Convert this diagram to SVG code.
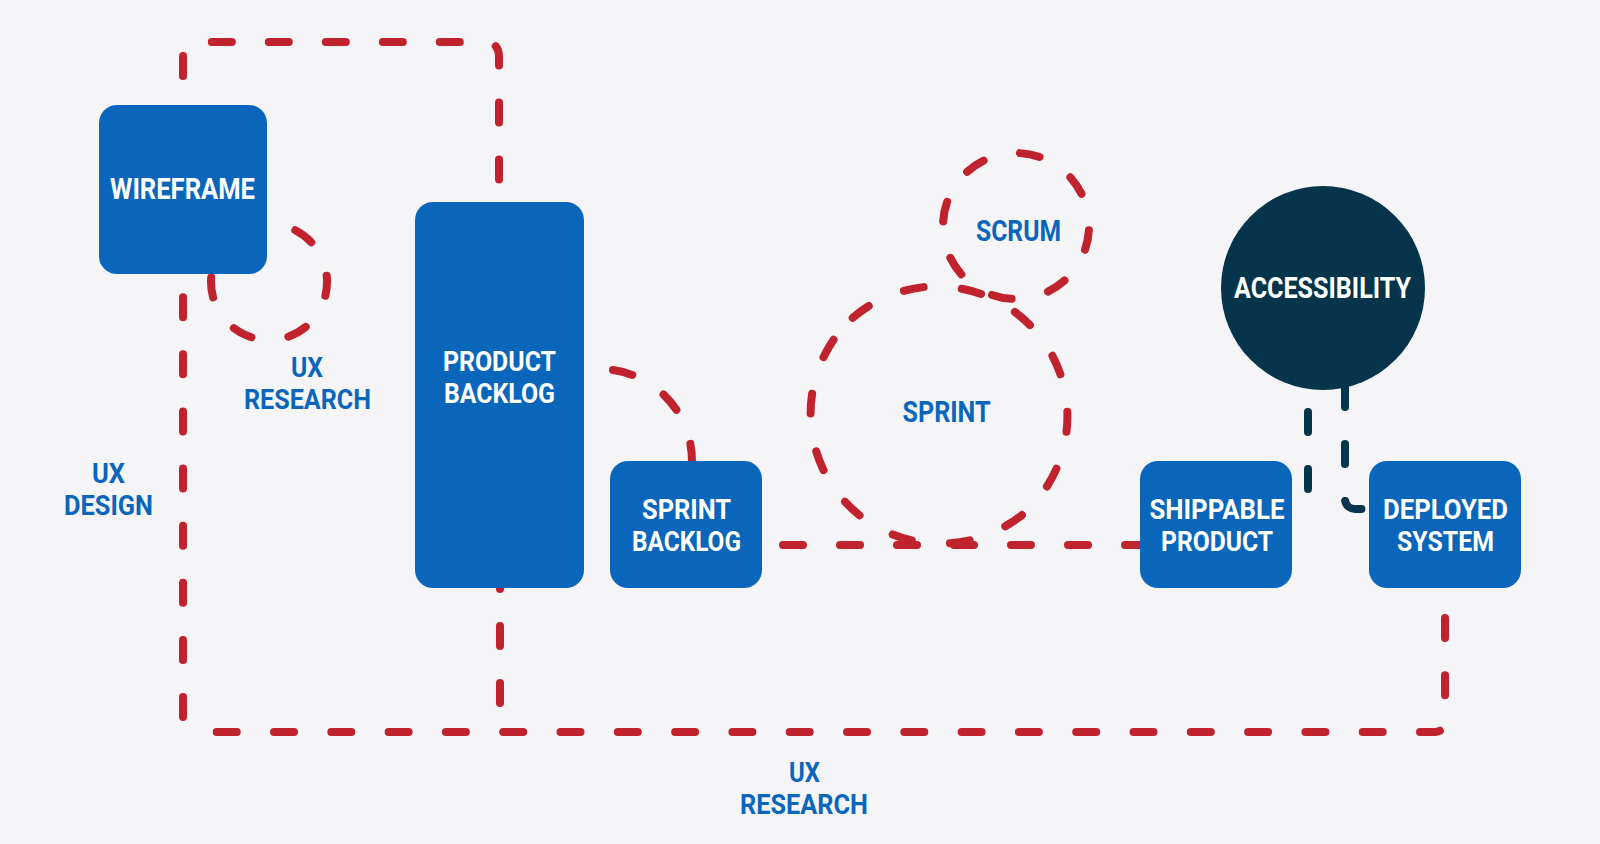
<svg xmlns="http://www.w3.org/2000/svg" width="1600" height="844" viewBox="0 0 1600 844">
<style>
.bg{fill:#f5f5f7}
.box{fill:#0a66bb}
.dark{fill:#06344a}
.red{fill:none;stroke:#c0222e;stroke-width:8;stroke-linecap:round;stroke-dasharray:20 37}
.navy{fill:none;stroke:#06344a;stroke-width:8;stroke-linecap:round;stroke-dasharray:20 37}
text{font-family:Roboto,"Liberation Sans",sans-serif;font-weight:700;font-size:29px;text-anchor:middle}
text.m{font-size:27px}
.w{fill:#ffffff}
.b{fill:#0a66bb}
</style>
<rect class="bg" x="0" y="0" width="1600" height="844"/>
<g id="connectors">
  <path class="red" d="M183,105 V57 Q183,42 198,42 H484 Q499,42 499,57 V202" style="stroke-dashoffset:28"/>
  <path class="red" d="M183,274 V722 A10,10 0 0 0 193,732" style="stroke-dasharray:20 37.14;stroke-dashoffset:34"/>
  <path class="red" d="M1445,588 V722 A10,10 0 0 1 1435,732 H193" style="stroke-dasharray:20 37.3;stroke-dashoffset:27.3"/>
  <path class="red" d="M500,588 V728" style="stroke-dashoffset:19"/>
  <path class="red" d="M295.3,230.3 A58,58 0 1 1 214.5,262.2" style="stroke-dasharray:20 37.5"/>
  <path class="red" d="M613,370 A92,92 0 0 1 692,461"/>
  <path class="red" d="M762,545 H1140" style="stroke-dashoffset:36"/>
  <path class="red" d="M852.7,317.8 A130,130 0 0 1 1025.3,512.2 A130,130 0 0 1 852.7,317.8" style="stroke-dasharray:20 38.34"/>
  <path class="red" d="M967.15,171.75 A73,73 0 0 1 1064.85,280.25 A73,73 0 0 1 967.15,171.75" style="stroke-dasharray:20 37.34"/>
  <path class="navy" d="M1308,389 V494" style="stroke-dashoffset:34"/>
  <path class="navy" d="M1345,380 V499 A10,10 0 0 0 1355,509 H1369" style="stroke-dashoffset:50"/>
</g>
<g id="wireframe">
  <rect class="box" x="99" y="105" width="168" height="169" rx="18"/>
  <text class="w" x="182.5" y="199" textLength="145" lengthAdjust="spacingAndGlyphs">WIREFRAME</text>
</g>
<g id="product-backlog">
  <rect class="box" x="415" y="202" width="169" height="386" rx="18"/>
  <text class="w m"><tspan x="499.5" y="371" textLength="113" lengthAdjust="spacingAndGlyphs">PRODUCT</tspan><tspan x="499.5" y="403" textLength="111" lengthAdjust="spacingAndGlyphs">BACKLOG</tspan></text>
</g>
<g id="sprint-backlog">
  <rect class="box" x="610" y="461" width="152" height="127" rx="18"/>
  <text class="w m"><tspan x="686.5" y="519" textLength="89" lengthAdjust="spacingAndGlyphs">SPRINT</tspan><tspan x="686.5" y="551" textLength="109" lengthAdjust="spacingAndGlyphs">BACKLOG</tspan></text>
</g>
<g id="shippable-product">
  <rect class="box" x="1140" y="461" width="152" height="127" rx="18"/>
  <text class="w m"><tspan x="1217" y="519" textLength="135" lengthAdjust="spacingAndGlyphs">SHIPPABLE</tspan><tspan x="1217" y="551" textLength="112" lengthAdjust="spacingAndGlyphs">PRODUCT</tspan></text>
</g>
<g id="deployed-system">
  <rect class="box" x="1369" y="461" width="152" height="127" rx="18"/>
  <text class="w m"><tspan x="1445.5" y="519" textLength="125" lengthAdjust="spacingAndGlyphs">DEPLOYED</tspan><tspan x="1445.5" y="551" textLength="97" lengthAdjust="spacingAndGlyphs">SYSTEM</tspan></text>
</g>
<g id="accessibility">
  <circle class="dark" cx="1323" cy="288" r="102"/>
  <text class="w" x="1322.5" y="298" textLength="177" lengthAdjust="spacingAndGlyphs">ACCESSIBILITY</text>
</g>
<g id="scrum">
  <text class="b" x="1018.5" y="241" textLength="85" lengthAdjust="spacingAndGlyphs">SCRUM</text>
</g>
<g id="sprint">
  <text class="b" x="946.5" y="422" textLength="88" lengthAdjust="spacingAndGlyphs">SPRINT</text>
</g>
<g id="ux-research-top">
  <text class="b m"><tspan x="307" y="377" textLength="32" lengthAdjust="spacingAndGlyphs">UX</tspan><tspan x="307.5" y="409" textLength="127" lengthAdjust="spacingAndGlyphs">RESEARCH</tspan></text>
</g>
<g id="ux-design">
  <text class="b m"><tspan x="108.5" y="482.5" textLength="33" lengthAdjust="spacingAndGlyphs">UX</tspan><tspan x="108.5" y="514.5" textLength="89" lengthAdjust="spacingAndGlyphs">DESIGN</tspan></text>
</g>
<g id="ux-research-bottom">
  <text class="b m"><tspan x="804.5" y="781.5" textLength="31" lengthAdjust="spacingAndGlyphs">UX</tspan><tspan x="804" y="813.5" textLength="128" lengthAdjust="spacingAndGlyphs">RESEARCH</tspan></text>
</g>
</svg>
